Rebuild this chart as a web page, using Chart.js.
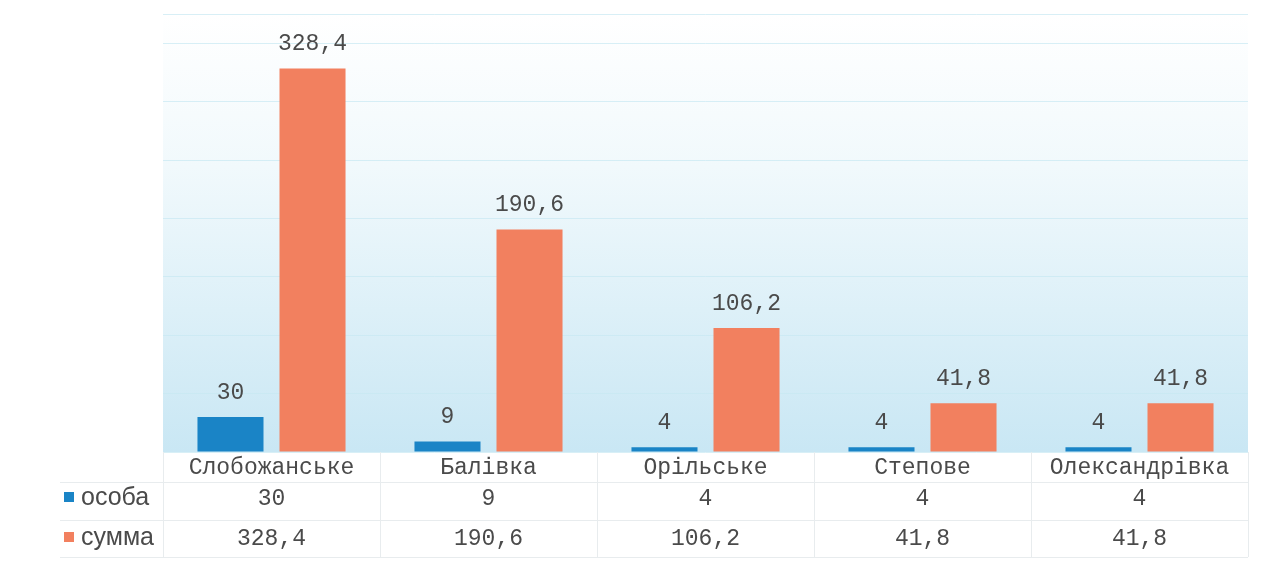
<!DOCTYPE html>
<html>
<head>
<meta charset="utf-8">
<script src="https://cdn.jsdelivr.net/npm/chart.js"></script>
<style>
  html, body { margin: 0; padding: 0; background: #fff; }
</style>
</head>
<body>
<canvas id="myChart" width="1268" height="565"></canvas>
<script>
var categories = ["Слобожанське", "Балівка", "Орільське", "Степове", "Олександрівка"];
var osoba = [30, 9, 4, 4, 4];
var summa = [328.4, 190.6, 106.2, 41.8, 41.8];
var seriesNames = ["особа", "сумма"];
var seriesColors = ["#1a84c6", "#f2805f"];
var yMax = 375;
var yStep = 50;

var mono = "'Courier New', 'Liberation Mono', monospace";
var sans = "Arial, 'Liberation Sans', sans-serif";

function fmt(v) {
  return String(v).replace(".", ",");
}

// gradient behind plot + value labels + data table under the chart
var tablePlugin = {
  id: "tablePlugin",
  beforeDraw: function(chart) {
    var ctx = chart.ctx;
    var a = chart.chartArea;
    var g = ctx.createLinearGradient(0, a.top, 0, a.bottom);
    g.addColorStop(0, "#ffffff");
    g.addColorStop(0.35, "#f1f9fc");
    g.addColorStop(1, "#c9e7f4");
    ctx.save();
    ctx.fillStyle = g;
    ctx.fillRect(a.left, a.top, a.right - a.left, a.bottom - a.top);
    ctx.restore();
  },
  afterDatasetsDraw: function(chart) {
    var ctx = chart.ctx;
    var a = chart.chartArea;
    var xs = chart.scales.x;
    ctx.save();

    // labels above bars
    ctx.font = "23px " + mono;
    ctx.fillStyle = "#4a4a4a";
    ctx.textAlign = "center";
    ctx.textBaseline = "alphabetic";
    chart.data.datasets.forEach(function(ds, i) {
      chart.getDatasetMeta(i).data.forEach(function(bar, j) {
        ctx.fillText(fmt(ds.data[j]), bar.x, bar.y - 18);
      });
    });

    // table grid
    var half = (xs.getPixelForValue(1) - xs.getPixelForValue(0)) / 2;
    var rows = [a.bottom, 482, 520, 557];
    ctx.strokeStyle = "#e8ecee";
    ctx.lineWidth = 1;
    ctx.beginPath();
    for (var r = 1; r < rows.length; r++) {
      ctx.moveTo(60, rows[r] + 0.5);
      ctx.lineTo(a.right, rows[r] + 0.5);
    }
    for (var k = 0; k <= categories.length; k++) {
      var bx = Math.round(xs.getPixelForValue(0) - half + k * half * 2) + 0.5;
      ctx.moveTo(bx, a.bottom);
      ctx.lineTo(bx, rows[3]);
    }
    ctx.stroke();

    // category row and value rows
    ctx.fillStyle = "#4a4a4a";
    ctx.font = "23px " + mono;
    categories.forEach(function(c, j) {
      var cx = xs.getPixelForValue(j);
      ctx.fillText(c, cx, 474);
      ctx.fillText(fmt(osoba[j]), cx, 505);
      ctx.fillText(fmt(summa[j]), cx, 545);
    });

    // legend keys
    ctx.textAlign = "left";
    ctx.font = "25px " + sans;
    var ly = [497, 537];
    seriesNames.forEach(function(n, i) {
      ctx.fillStyle = seriesColors[i];
      ctx.fillRect(64, ly[i] - 5, 10, 10);
      ctx.fillStyle = "#4a4a4a";
      ctx.fillText(n, 81, ly[i] + 8);
    });

    ctx.restore();
  }
};

var ctx = document.getElementById("myChart");
var myChart = new Chart(ctx, {
  type: "bar",
  data: {
    labels: categories,
    datasets: [
      {
        label: seriesNames[0],
        data: osoba,
        backgroundColor: seriesColors[0],
        categoryPercentage: 0.756,
        barPercentage: 0.805
      },
      {
        label: seriesNames[1],
        data: summa,
        backgroundColor: seriesColors[1],
        categoryPercentage: 0.756,
        barPercentage: 0.805
      }
    ]
  },
  options: {
    responsive: false,
    animation: false,
    layout: {
      padding: { left: 163, right: 20, top: 14, bottom: 113 }
    },
    plugins: {
      legend: { display: false },
      tooltip: { enabled: false }
    },
    scales: {
      x: { display: false },
      y: {
        min: 0,
        max: yMax,
        ticks: { display: false, stepSize: yStep },
        grid: { color: "rgba(200,232,242,0.7)", drawTicks: false },
        border: { display: false }
      }
    }
  },
  plugins: [tablePlugin]
});
</script>
</body>
</html>
